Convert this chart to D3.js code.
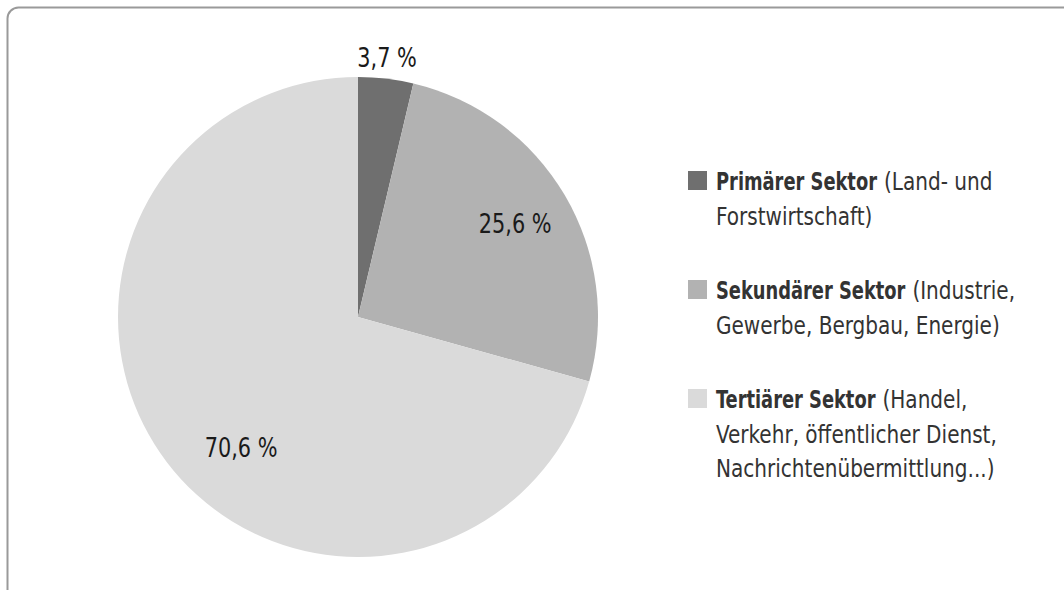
<!DOCTYPE html>
<html><head><meta charset="utf-8">
<script src="https://cdn.jsdelivr.net/npm/d3@7"></script>
<style>
html,body{margin:0;padding:0;background:#fff;}
svg{display:block;}
text{font-family:"DejaVu Sans Condensed","DejaVu Sans",sans-serif;fill:#333;}
</style></head>
<body>
<svg id="chart" width="1064" height="590"></svg>
<script>
const categories = ["Primärer Sektor", "Sekundärer Sektor", "Tertiärer Sektor"];
const values = [3.7, 25.6, 70.6];
const valueLabels = ["3,7 %", "25,6 %", "70,6 %"];
const legendDetails = [
  ["(Land- und", "Forstwirtschaft)"],
  ["(Industrie,", "Gewerbe, Bergbau, Energie)"],
  ["(Handel,", "Verkehr, öffentlicher Dienst,", "Nachrichtenübermittlung...)"]
];
const colors = ["#6f6f6f", "#b2b2b2", "#dadada"];

const svg = d3.select("#chart");

// frame
svg.append("rect").attr("x", 7.5).attr("y", 7.5).attr("width", 1100).attr("height", 700)
  .attr("rx", 11).attr("fill", "none").attr("stroke", "#9a9a9a").attr("stroke-width", 2);

const cx = 358, cy = 317, R = 240;
const g = svg.append("g").attr("transform", `translate(${cx},${cy})`);
const pie = d3.pie().sort(null).value(d => d);
const arcs = pie(values);
const arc = d3.arc().innerRadius(0).outerRadius(R);
g.selectAll("path").data(arcs).join("path")
  .attr("d", arc).attr("fill", (d, i) => colors[i]);

// labels
const labelR = [262, 183, 175];
const labelAngleShift = [-0.005, -0.005, -0.19];
const labelScale = 0.89;
arcs.forEach((d, i) => {
  const a = (d.startAngle + d.endAngle) / 2 + labelAngleShift[i];
  const x = labelR[i] * Math.sin(a), y = -labelR[i] * Math.cos(a) + 10;
  g.append("g").attr("transform", `translate(${x},${y}) scale(${labelScale},1)`)
    .append("text").attr("text-anchor", "middle").attr("font-size", 26)
    .style("fill", "#1a1a1a").text(valueLabels[i]);
});

// legend
const legTop = [171, 280, 389];
const lineH = 34.5;
const boldScale = 0.81, regScale = 0.91, fs = 24.5;
categories.forEach((c, i) => {
  const lg = svg.append("g").attr("transform", `translate(688,${legTop[i]})`);
  lg.append("rect").attr("width", 19).attr("height", 19).attr("fill", colors[i]);
  const bg = lg.append("g").attr("transform", `translate(28,19) scale(${boldScale},1)`);
  const bt = bg.append("text").attr("font-size", fs).attr("font-weight", "bold").text(c);
  const bw = bt.node().getComputedTextLength() * boldScale;
  lg.append("g").attr("transform", `translate(${28 + bw + 7},19) scale(${regScale},1)`)
    .append("text").attr("font-size", fs).text(legendDetails[i][0]);
  legendDetails[i].slice(1).forEach((l, j) => {
    lg.append("g").attr("transform", `translate(28,${19 + lineH * (j + 1)}) scale(${regScale},1)`)
      .append("text").attr("font-size", fs).text(l);
  });
});
</script>
</body></html>
